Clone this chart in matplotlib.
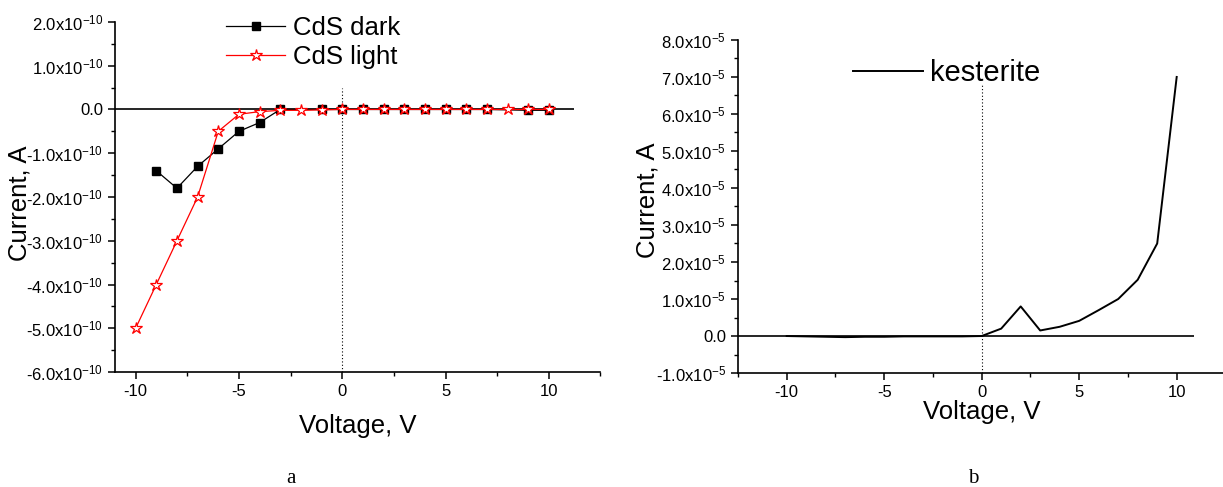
import numpy as np
import matplotlib.pyplot as plt
from matplotlib.ticker import MultipleLocator, FuncFormatter

plt.rcParams['font.family'] = ['Liberation Sans', 'DejaVu Sans']
plt.rcParams['mathtext.fontset'] = 'custom'
plt.rcParams['mathtext.rm'] = 'Liberation Sans'
plt.rcParams['mathtext.it'] = 'Liberation Sans'
plt.rcParams['axes.unicode_minus'] = False

# ---- data: CdS (panel a) ----
v_dark = [-9, -8, -7, -6, -5, -4, -3, -1, 0, 1, 2, 3, 4, 5, 6, 7, 9, 10]
i_dark = [-1.4, -1.8, -1.3, -0.9, -0.5, -0.3, 0.0, 0.0, 0.0, 0.0, 0.0, 0.0,
          0.0, 0.0, 0.0, 0.0, -0.02, -0.02]  # x1e-10 A
v_light = [-10, -9, -8, -7, -6, -5, -4, -3, -2, -1, 0, 1, 2, 3, 4, 5, 6, 7, 8, 9, 10]
i_light = [-5.0, -4.0, -3.0, -2.0, -0.5, -0.11, -0.05, -0.02, -0.02, -0.01, 0.0,
           0.0, 0.0, 0.0, 0.0, 0.0, 0.0, 0.0, 0.0, 0.0, 0.0]  # x1e-10 A

# ---- data: kesterite (panel b) ----
v_kest = [-10, -9, -8, -7, -6, -5, -4, -3, -2, -1, 0, 1, 2, 3, 4, 5, 6, 7, 8, 9, 10]
i_kest = [0.0, -0.01, -0.02, -0.03, -0.02, -0.02, -0.01, -0.01, -0.01, -0.01, 0.0,
          0.2, 0.8, 0.15, 0.25, 0.41, 0.7, 1.0, 1.52, 2.5, 7.0]  # x1e-5 A

a_yticks = [2, 1, 0, -1, -2, -3, -4, -5, -6]
b_yticks = [8, 7, 6, 5, 4, 3, 2, 1, 0, -1]


def sci_fmt(exp):
    def f(val, pos):
        if abs(val) < 1e-9:
            return '0.0'
        sign = '-' if val < 0 else ''
        return sign + r'$\mathregular{%.1fx10^{%d}}$' % (abs(val), exp)
    return f


def style_axes(ax):
    for s in ['top', 'right']:
        ax.spines[s].set_visible(False)
    ax.spines['left'].set_linewidth(1.2)
    ax.spines['bottom'].set_linewidth(1.2)
    ax.tick_params(which='major', direction='out', length=5, width=1.1, labelsize=12)
    ax.tick_params(which='minor', direction='out', length=3, width=1.0)
    ax.xaxis.set_major_locator(MultipleLocator(5))
    ax.xaxis.set_minor_locator(MultipleLocator(2.5))


fig = plt.figure(figsize=(12.23, 4.87), dpi=100)

# ---------- panel a ----------
ax1 = fig.add_axes([0.094, 0.236, 0.397, 0.719])
ax1.hlines(0, -11, 11.2, color='black', lw=1.2, zorder=1)
ax1.vlines(0, -6, 0.5, color='black', lw=0.8, linestyles=(0, (1, 2)), zorder=1)
ax1.plot(v_dark, i_dark, color='black', lw=0.9, marker='s', ms=6,
         mfc='black', mec='black', label='CdS dark', zorder=3)
ax1.plot(v_light, i_light, color='red', lw=0.9, marker='*', ms=9,
         mfc='white', mec='red', mew=0.9, label='CdS light', zorder=4)
ax1.set_xlim(-11, 12.5)
ax1.set_ylim(-6, 2)
ax1.set_yticks(a_yticks)
ax1.yaxis.set_minor_locator(MultipleLocator(0.5))
ax1.yaxis.set_major_formatter(FuncFormatter(sci_fmt(-10)))
style_axes(ax1)
ax1.set_xlabel('Voltage, V', fontsize=18.5, labelpad=11)
ax1.set_ylabel('Current, A', fontsize=18.5)
ax1.yaxis.set_label_coords(-0.172, 0.483)
ax1.legend(loc='upper left', bbox_to_anchor=(0.1848, 0.968),
           bbox_transform=fig.transFigure, frameon=False, fontsize=18.5,
           handlelength=2.3, handletextpad=0.3, labelspacing=0.22,
           borderaxespad=0, borderpad=0)
fig.text(0.238, 0.018, 'a', family='Liberation Serif', fontsize=15,
         ha='center', va='center')

# ---------- panel b ----------
ax2 = fig.add_axes([0.6034, 0.234, 0.3986, 0.684])
ax2.hlines(0, -12.5, 10.9, color='black', lw=1.2, zorder=1)
ax2.vlines(0, -1, 6.83, color='black', lw=0.8, linestyles=(0, (1, 2)), zorder=1)
ax2.plot(v_kest, i_kest, color='black', lw=1.4, label='kesterite', zorder=3)
ax2.set_xlim(-12.5, 12.5)
ax2.set_ylim(-1, 8)
ax2.set_yticks(b_yticks)
ax2.yaxis.set_minor_locator(MultipleLocator(0.5))
ax2.yaxis.set_major_formatter(FuncFormatter(sci_fmt(-5)))
style_axes(ax2)
ax2.set_xlabel('Voltage, V', fontsize=18.5, labelpad=0)
ax2.set_ylabel('Current, A', fontsize=18.5)
ax2.yaxis.set_label_coords(-0.16, 0.52)
ax2.legend(loc='upper left', bbox_to_anchor=(0.6975, 0.878),
           bbox_transform=fig.transFigure, frameon=False, fontsize=21,
           handlelength=2.4, handletextpad=0.25, borderaxespad=0, borderpad=0)
fig.text(0.796, 0.018, 'b', family='Liberation Serif', fontsize=15,
         ha='center', va='center')

fig.savefig('out.png', dpi=100)
